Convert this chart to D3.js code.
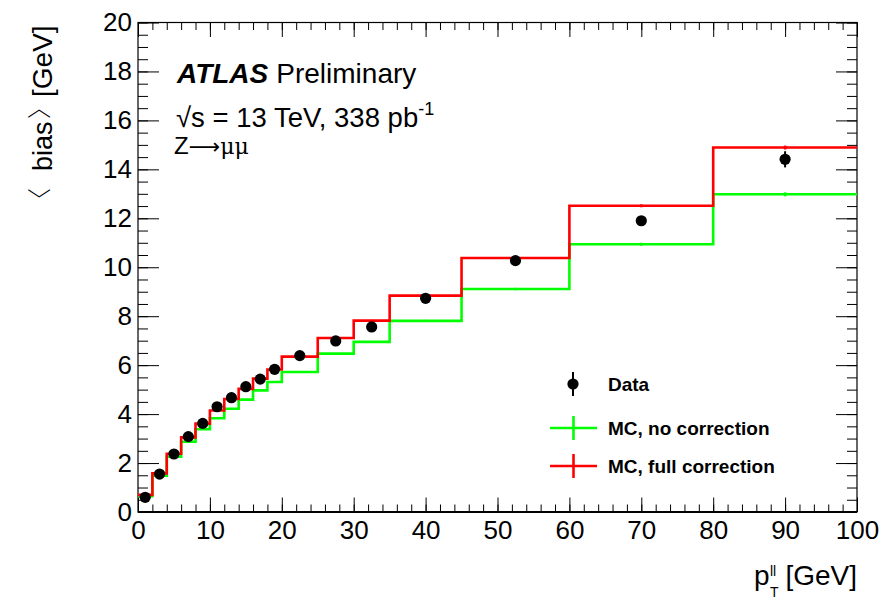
<!DOCTYPE html>
<html>
<head>
<meta charset="utf-8">
<script src="https://cdn.jsdelivr.net/npm/d3@7"></script>
<style>
  html, body { margin: 0; padding: 0; background: #fff; }
  svg { display: block; font-family: "Liberation Sans", Arial, Helvetica, sans-serif; }
</style>
</head>
<body>
<svg id="chart" width="880" height="601"></svg>
<script>
// Bin edges in pT(ll) [GeV]
const binEdges = [0, 2, 4, 6, 8, 10, 12, 14, 16, 18, 20, 25, 30, 35, 45, 60, 80, 100];

// Mean bias [GeV] per bin
const dataValues = [0.60, 1.55, 2.37, 3.08, 3.62, 4.30, 4.67, 5.12, 5.43, 5.83, 6.39, 6.99, 7.56, 8.73, 10.27, 11.90, 14.41];
const dataErrors = [0.05, 0.05, 0.05, 0.05, 0.05, 0.05, 0.05, 0.05, 0.05, 0.05, 0.05, 0.06, 0.07, 0.08, 0.10, 0.12, 0.33];

const mcNoCorrection   = [0.65, 1.48, 2.26, 2.87, 3.38, 3.83, 4.22, 4.59, 4.97, 5.31, 5.72, 6.47, 6.95, 7.81, 9.11, 10.94, 12.98];
const mcFullCorrection = [0.70, 1.58, 2.38, 3.05, 3.61, 4.15, 4.62, 5.03, 5.45, 5.82, 6.35, 7.11, 7.82, 8.84, 10.38, 12.51, 14.89];
const mcErrors         = [0.02, 0.02, 0.02, 0.02, 0.02, 0.02, 0.02, 0.02, 0.02, 0.02, 0.03, 0.03, 0.03, 0.04, 0.05, 0.06, 0.08];

const xTickValues = [0, 10, 20, 30, 40, 50, 60, 70, 80, 90, 100];
const yTickValues = [0, 2, 4, 6, 8, 10, 12, 14, 16, 18, 20];

const legendEntries = [
  { label: "Data", kind: "data", color: "#000" },
  { label: "MC, no correction", kind: "mc", color: "#00ff00" },
  { label: "MC, full correction", kind: "mc", color: "#ff0000" }
];

const svg = d3.select("#chart");
const frame = { left: 138, right: 857, top: 22.5, bottom: 512 };

const x = d3.scaleLinear().domain([0, 100]).range([frame.left, frame.right]);
const y = d3.scaleLinear().domain([0, 20]).range([frame.bottom, frame.top]);

const xMinor = d3.range(0, 100.001, 2);
const yMinor = d3.range(0, 20.001, 0.5);

// ---- axes (ticks point inward on all four sides) ----
function styleAxis(g) {
  g.select(".domain").remove();
  g.selectAll(".tick line").attr("stroke", "#000").attr("stroke-width", 1);
  g.selectAll(".tick text").attr("fill", "#000").attr("font-size", 26)
    .attr("font-family", "Liberation Sans, Arial, sans-serif");
}

svg.append("g").attr("transform", `translate(0,${frame.bottom})`)
  .call(d3.axisBottom(x).tickValues(xMinor).tickFormat("").tickSize(-7.5).tickSizeOuter(0)).call(styleAxis);
svg.append("g").attr("transform", `translate(0,${frame.bottom})`)
  .call(d3.axisBottom(x).tickValues(xTickValues).tickFormat(d3.format("d")).tickSize(-14.5).tickSizeOuter(0).tickPadding(9))
  .call(styleAxis);
svg.append("g").attr("transform", `translate(0,${frame.top})`)
  .call(d3.axisTop(x).tickValues(xMinor).tickFormat("").tickSize(-7.5).tickSizeOuter(0)).call(styleAxis);
svg.append("g").attr("transform", `translate(0,${frame.top})`)
  .call(d3.axisTop(x).tickValues(xTickValues).tickFormat("").tickSize(-14.5).tickSizeOuter(0)).call(styleAxis);

svg.append("g").attr("transform", `translate(${frame.left},0)`)
  .call(d3.axisLeft(y).tickValues(yMinor).tickFormat("").tickSize(-10).tickSizeOuter(0)).call(styleAxis);
svg.append("g").attr("transform", `translate(${frame.left},0)`)
  .call(d3.axisLeft(y).tickValues(yTickValues).tickFormat(d3.format("d")).tickSize(-21).tickSizeOuter(0).tickPadding(6))
  .call(styleAxis);
svg.append("g").attr("transform", `translate(${frame.right},0)`)
  .call(d3.axisRight(y).tickValues(yMinor).tickFormat("").tickSize(-10).tickSizeOuter(0)).call(styleAxis);
svg.append("g").attr("transform", `translate(${frame.right},0)`)
  .call(d3.axisRight(y).tickValues(yTickValues).tickFormat("").tickSize(-21).tickSizeOuter(0)).call(styleAxis);

// frame
svg.append("rect")
  .attr("x", frame.left).attr("y", frame.top)
  .attr("width", frame.right - frame.left).attr("height", frame.bottom - frame.top)
  .attr("fill", "none").attr("stroke", "#000").attr("stroke-width", 1.2);
svg.append("line")
  .attr("x1", frame.left).attr("x2", frame.right)
  .attr("y1", frame.bottom).attr("y2", frame.bottom)
  .attr("stroke", "#000").attr("stroke-width", 2);

// ---- histograms ----
const binCenters = binEdges.slice(0, -1).map((e, i) => (e + binEdges[i + 1]) / 2);

function stepPoints(values) {
  const pts = values.map((v, i) => [binEdges[i], v]);
  pts.push([binEdges[binEdges.length - 1], values[values.length - 1]]);
  return pts;
}
const stepLine = d3.line().x(d => x(d[0])).y(d => y(d[1])).curve(d3.curveStepAfter);

function drawHist(values, color) {
  const g = svg.append("g");
  g.append("path").attr("d", stepLine(stepPoints(values)))
    .attr("fill", "none").attr("stroke", color).attr("stroke-width", 2.6);
  g.selectAll("line.err").data(values).join("line")
    .attr("x1", (d, i) => x(binCenters[i])).attr("x2", (d, i) => x(binCenters[i]))
    .attr("y1", (d, i) => y(d - mcErrors[i])).attr("y2", (d, i) => y(d + mcErrors[i]))
    .attr("stroke", color).attr("stroke-width", 2.6);
}
drawHist(mcNoCorrection, "#00ff00");
drawHist(mcFullCorrection, "#ff0000");

// ---- data points ----
const dataG = svg.append("g");
dataG.selectAll("line").data(dataValues).join("line")
  .attr("x1", (d, i) => x(binCenters[i])).attr("x2", (d, i) => x(binCenters[i]))
  .attr("y1", (d, i) => y(d - dataErrors[i])).attr("y2", (d, i) => y(d + dataErrors[i]))
  .attr("stroke", "#000").attr("stroke-width", 2);
dataG.selectAll("circle").data(dataValues).join("circle")
  .attr("cx", (d, i) => x(binCenters[i])).attr("cy", d => y(d))
  .attr("r", 5.6).attr("fill", "#000");

// ---- legend ----
const legend = svg.append("g");
const legendRows = [384, 428, 466];
legendEntries.forEach((e, i) => {
  const cy = legendRows[i];
  if (e.kind === "data") {
    legend.append("line").attr("x1", 573).attr("x2", 573).attr("y1", cy - 12).attr("y2", cy + 12)
      .attr("stroke", "#000").attr("stroke-width", 2);
    legend.append("circle").attr("cx", 573).attr("cy", cy).attr("r", 5.6).attr("fill", "#000");
  } else {
    legend.append("line").attr("x1", 550).attr("x2", 597).attr("y1", cy).attr("y2", cy)
      .attr("stroke", e.color).attr("stroke-width", 2.6);
    legend.append("line").attr("x1", 573.5).attr("x2", 573.5).attr("y1", cy - 12).attr("y2", cy + 12)
      .attr("stroke", e.color).attr("stroke-width", 2.6);
  }
  legend.append("text").attr("x", 608).attr("y", cy + 7)
    .attr("font-size", 19).attr("font-weight", "bold").attr("fill", "#000").text(e.label);
});

// ---- labels ----
const atlas = svg.append("text").attr("x", 177).attr("y", 83).attr("font-size", 28).attr("fill", "#000");
atlas.append("tspan").attr("font-weight", "bold").attr("font-style", "italic").text("ATLAS");
atlas.append("tspan").attr("dx", 8).text("Preliminary");

const energy = svg.append("text").attr("x", 176).attr("y", 127).attr("font-size", 27.5).attr("fill", "#000");
energy.append("tspan").text("√s = 13 TeV, 338 pb");
energy.append("tspan").attr("font-size", 18).attr("dy", -12).text("-1");

const zline = svg.append("text").attr("x", 174).attr("y", 154).attr("font-size", 24).attr("fill", "#000");
zline.append("tspan").text("Z");
zline.append("tspan").attr("font-family", "DejaVu Sans, sans-serif").attr("font-size", 22).text("⟶");
zline.append("tspan").attr("font-family", "DejaVu Serif, serif").attr("font-size", 22).text("μμ");

// x-axis title
svg.append("text").attr("x", 754).attr("y", 585).attr("font-size", 28).attr("fill", "#000").text("p");
svg.append("text").attr("x", 770).attr("y", 576).attr("font-size", 14).attr("fill", "#000").text("ll");
svg.append("text").attr("x", 770).attr("y", 597).attr("font-size", 14).attr("fill", "#000").text("T");
svg.append("text").attr("x", 857).attr("y", 585).attr("text-anchor", "end").attr("font-size", 28).attr("fill", "#000").text("[GeV]");

// y-axis title (rotated), pieces placed along the axis; thin tall angle brackets
const yTitle = svg.append("g").attr("transform", "translate(52,0) rotate(-90)");
yTitle.append("text").attr("x", -212).attr("y", -4).attr("font-size", 24)
  .attr("font-family", "Noto Sans CJK JP, sans-serif").attr("font-weight", 300).text("〈");
yTitle.append("text").attr("x", -171).attr("y", 0).attr("font-size", 27).text("bias");
yTitle.append("text").attr("x", -119).attr("y", -4).attr("font-size", 24)
  .attr("font-family", "Noto Sans CJK JP, sans-serif").attr("font-weight", 300).text("〉");
yTitle.append("text").attr("x", -97).attr("y", 0).attr("font-size", 28).text("[GeV]");
</script>
</body>
</html>
